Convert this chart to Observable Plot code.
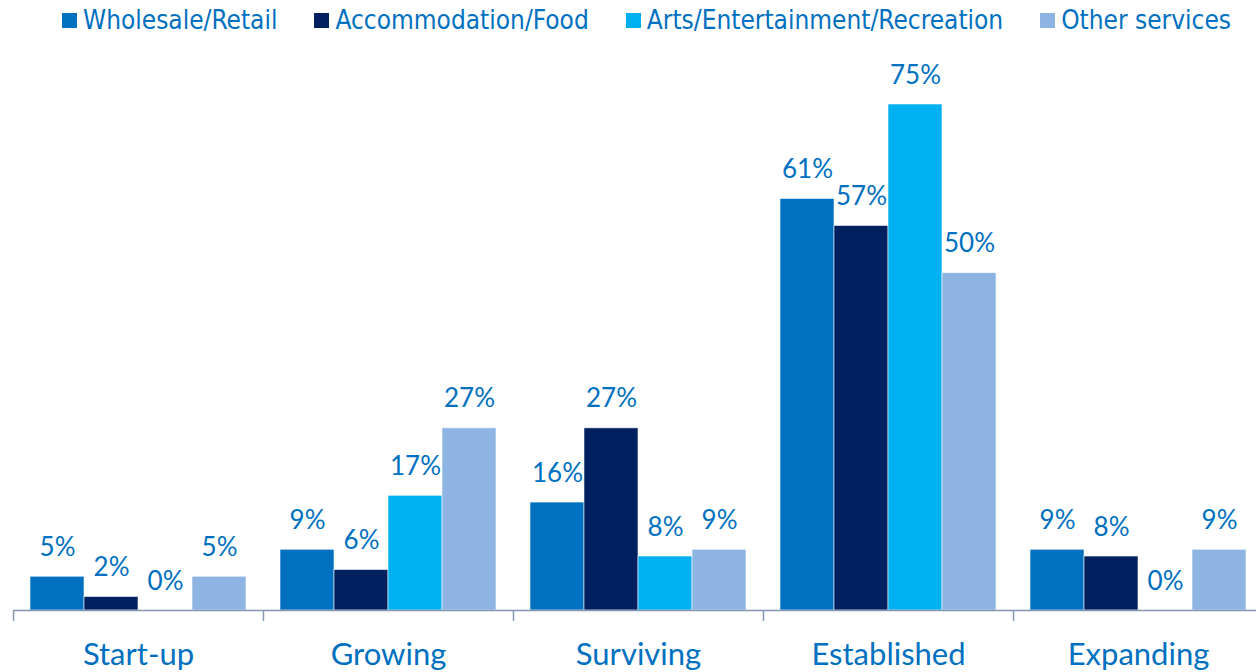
<!DOCTYPE html>
<html>
<head>
<meta charset="utf-8">
<script src="https://cdn.jsdelivr.net/npm/d3@7"></script>
<script src="https://cdn.jsdelivr.net/npm/@observablehq/plot@0.6"></script>
<style>
  html, body { margin: 0; padding: 0; background: #fff; overflow: hidden; width: 1256px; height: 672px; }
  #legend { height: 40px; display: flex; align-items: center; gap: 37px; padding-left: 62px; box-sizing: border-box;
    font-family: "DejaVu Sans Condensed", "DejaVu Sans", sans-serif; font-stretch: condensed; font-size: 26px; color: #0070C0; }
  #legend .item { display: flex; align-items: center; white-space: nowrap; }
  #legend .sw { width: 15px; height: 15px; margin-right: 6px; display: inline-block; }
  #chart svg { display: block; max-width: none !important; width: 1263px !important; height: 632px !important; }
</style>
</head>
<body>
<div id="legend"></div>
<div id="chart"></div>
<script>
const stages = ["Start-up", "Growing", "Surviving", "Established", "Expanding"];
const series = ["Wholesale/Retail", "Accommodation/Food", "Arts/Entertainment/Recreation", "Other services"];
const colors = ["#0070C0", "#002060", "#00B0F0", "#8EB4E3"];
const wholesaleRetail = [5, 9, 16, 61, 9];
const accommodationFood = [2, 6, 27, 57, 8];
const artsEntertainment = [0, 17, 8, 75, 0];
const otherServices = [5, 27, 9, 50, 9];

const seriesValues = [wholesaleRetail, accommodationFood, artsEntertainment, otherServices];
const data = [];
stages.forEach((stage, i) => {
  series.forEach((s, j) => data.push({stage, series: s, value: seriesValues[j][i]}));
});

// legend
const legend = document.getElementById("legend");
series.forEach((s, j) => {
  const item = document.createElement("div");
  item.className = "item";
  const sw = document.createElement("span");
  sw.className = "sw";
  sw.style.background = colors[j];
  item.appendChild(sw);
  item.appendChild(document.createTextNode(s));
  legend.appendChild(item);
});

const textColor = "#0070C0";
const axisColor = "#8497B0";

const chart = Plot.plot({
  width: 1263,
  height: 632,
  marginLeft: 13,
  marginRight: 0,
  marginTop: 64,
  marginBottom: 62,
  style: {background: "transparent", overflow: "visible"},
  fx: {domain: stages, padding: 0, label: null},
  x: {domain: series, paddingInner: 0, paddingOuter: 0.294, axis: null},
  y: {domain: [0, 75], axis: null},
  color: {domain: series, range: colors},
  marks: [
    Plot.barY(data, {fx: "stage", x: "series", y: "value", fill: "series", stroke: "#ffffff", strokeWidth: 0.8, strokeOpacity: 0.7}),
    Plot.ruleY([0], {stroke: axisColor, strokeWidth: 1.5}),
    Plot.text(data, {fx: "stage", x: "series", y: "value", text: d => d.value + "%", lineAnchor: "bottom", dy: -21,
      fill: textColor, fontSize: 26, fontFamily: "Lato, 'Open Sans', sans-serif"}),
    Plot.axisFx({anchor: "bottom", tickSize: 11, text: null, dx: -125, stroke: axisColor, strokeWidth: 1.5, label: null}),
    Plot.axisFx({anchor: "bottom", tickSize: 0, tickPadding: 32, fill: textColor, fontSize: 31,
      fontFamily: "Lato, 'Open Sans', sans-serif", label: null})
  ]
});
document.getElementById("chart").appendChild(chart);
</script>
</body>
</html>
